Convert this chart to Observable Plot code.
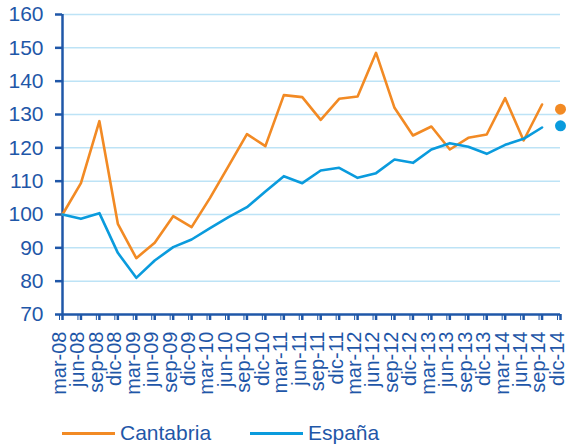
<!DOCTYPE html>
<html>
<head>
<meta charset="utf-8">
<script src="https://cdn.jsdelivr.net/npm/d3@7"></script>
<script src="https://cdn.jsdelivr.net/npm/@observablehq/plot@0.6"></script>
<style>
  html, body { margin: 0; padding: 0; background: #fff; }
  body { width: 568px; height: 448px; overflow: hidden; font-family: "Liberation Sans", Arial, sans-serif; position: relative; }
  #chart svg { display: block; }
  .legend { position: absolute; top: 420px; left: 0; width: 568px; height: 26px; font-size: 21px; color: #1F57A8; }
  .legend .item { position: absolute; top: 0; display: flex; align-items: center; height: 26px; }
  .legend .sw { width: 53px; height: 3px; margin-right: 5px; }
</style>
</head>
<body>
<div id="chart"></div>
<div class="legend">
  <div class="item" style="left:62px"><span class="sw" style="background:#F28A24"></span><span>Cantabria</span></div>
  <div class="item" style="left:250px"><span class="sw" style="background:#0A9BDD"></span><span>España</span></div>
</div>
<script>
const quarters = ["mar-08","jun-08","sep-08","dic-08","mar-09","jun-09","sep-09","dic-09",
  "mar-10","jun-10","sep-10","dic-10","mar-11","jun-11","sep-11","dic-11",
  "mar-12","jun-12","sep-12","dic-12","mar-13","jun-13","sep-13","dic-13",
  "mar-14","jun-14","sep-14","dic-14"];
const cantabria = [100, 109.4, 128, 97.2, 86.9, 91.5, 99.5, 96.2, 105, 114.5, 124.1, 120.5,
  135.8, 135.2, 128.4, 134.7, 135.4, 148.5, 132, 123.7, 126.4, 119.5, 123, 124, 134.9, 122.2, 133];
const espana = [100, 98.7, 100.4, 88.5, 81, 86.2, 90.2, 92.5, 95.9, 99.2, 102.2, 106.9,
  111.5, 109.4, 113.2, 114, 111, 112.4, 116.5, 115.5, 119.5, 121.4, 120.3, 118.2, 120.9, 122.7, 126.1];
const dotQuarter = "dic-14";
const cantabriaDot = 131.6;
const espanaDot = 126.6;
const yTicks = [70, 80, 90, 100, 110, 120, 130, 140, 150, 160];
const gridTicks = [80, 90, 100, 110, 120, 130, 140, 150, 160];

const cData = cantabria.map((v, i) => ({q: quarters[i], v}));
const eData = espana.map((v, i) => ({q: quarters[i], v}));
const dots = [{q: dotQuarter, v: cantabriaDot, c: "#F28A24"}, {q: dotQuarter, v: espanaDot, c: "#0A9BDD"}];

const axisColor = "#1F57A8";
const chart = Plot.plot({
  width: 568,
  height: 412,
  marginLeft: 62,
  marginRight: 8,
  marginTop: 14,
  marginBottom: 98,
  style: {fontFamily: "'Liberation Sans', Arial, sans-serif", fontSize: "20px", color: axisColor, background: "transparent"},
  x: {type: "point", domain: quarters, padding: 0, round: false},
  y: {domain: [70, 160]},
  marks: [
    Plot.ruleY(gridTicks, {stroke: "#BDE3F6", strokeWidth: 1.5}),
    Plot.axisX({ticks: quarters, tickSize: 6, tickPadding: 11, tickRotate: -90, stroke: axisColor, strokeWidth: 2.5, fill: axisColor, fontSize: 20, label: null, strokeOpacity: 1, text: null}),
    Plot.axisX({ticks: quarters, tickSize: 6, tickPadding: 11, tickRotate: -90, fill: axisColor, fontSize: 20, label: null, tick: null, dx: -3}),
    Plot.axisY({ticks: yTicks, tickSize: 7, tickPadding: 12, stroke: axisColor, strokeWidth: 2.5, fill: axisColor, fontSize: 21, label: null, strokeOpacity: 1}),
    Plot.ruleY([70], {stroke: axisColor, strokeWidth: 2.5}),
    Plot.ruleX([quarters[0]], {y1: 70, y2: 160, stroke: axisColor, strokeWidth: 2.5}),
    Plot.line(cData, {x: "q", y: "v", stroke: "#F28A24", strokeWidth: 2.6}),
    Plot.line(eData, {x: "q", y: "v", stroke: "#0A9BDD", strokeWidth: 2.6}),
    Plot.dot(dots, {x: "q", y: "v", fill: "c", r: 5.5})
  ]
});
document.getElementById("chart").appendChild(chart);
</script>
</body>
</html>
